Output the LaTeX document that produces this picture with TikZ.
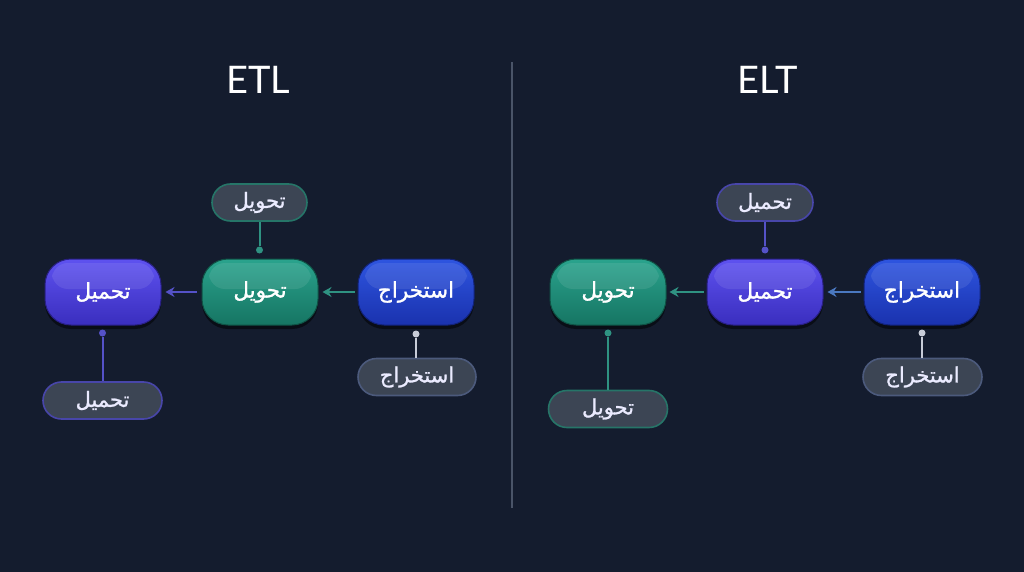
\documentclass[tikz,border=0pt]{standalone}
\usepackage{fontspec}
\setmainfont{Lato}
\newfontfamily\arabicfont[Script=Arabic]{DejaVu Sans}
\newfontfamily\arabicbold[Script=Arabic,FakeBold=1.2]{DejaVu Sans}
\TeXXeTstate=1
\usetikzlibrary{shadows,arrows.meta}
\definecolor{bg}{HTML}{141C2E}
\definecolor{divc}{HTML}{4A5468}
\definecolor{blueT}{HTML}{2E55E0}
\definecolor{blueB}{HTML}{1A32AE}
\definecolor{greenT}{HTML}{2AA38D}
\definecolor{greenB}{HTML}{167563}
\definecolor{purpT}{HTML}{5E52F0}
\definecolor{purpB}{HTML}{3A2EBE}
\definecolor{lblfill}{HTML}{3C4554}
\definecolor{tealc}{HTML}{2F9282}
\definecolor{purpc}{HTML}{5552C8}
\definecolor{bluec}{HTML}{4A78C0}
\definecolor{greyc}{HTML}{C8CCD8}
\definecolor{greyb}{HTML}{4C5A7C}
\newcommand{\artxt}[1]{\beginR #1\endR}
\tikzset{
  mainbox/.style={rounded corners=26pt, minimum width=116pt, minimum height=66pt,
    text=white, font=\arabicbold\fontsize{21.5}{26}\selectfont, inner sep=0pt,
    drop shadow={shadow xshift=0pt, shadow yshift=-4pt, opacity=0.5, fill=black},
    path picture={\fill[white, opacity=0.09, rounded corners=16pt]
      ([xshift=7pt,yshift=-4pt]path picture bounding box.north west) rectangle
      ([xshift=-7pt,yshift=3pt]path picture bounding box.east);}},
  extractbox/.style={mainbox, top color=blueT, bottom color=blueB, draw=blueB!70!black, line width=1pt},
  transformbox/.style={mainbox, top color=greenT, bottom color=greenB, draw=greenB!70!black, line width=1pt},
  loadbox/.style={mainbox, top color=purpT, bottom color=purpB, draw=purpB!70!black, line width=1pt},
  lbl/.style={rounded corners=18.5pt, minimum height=37pt, fill=lblfill, line width=1.6pt,
    text=white!92!blue, font=\arabicbold\fontsize{21}{25}\selectfont, inner sep=0pt},
  dot/.style={circle, inner sep=0pt, minimum size=7pt, fill=#1},
  conn/.style={line width=2pt, #1},
  flow/.style={line width=2.4pt, #1, -{Stealth[length=9pt,width=10pt]}},
  title/.style={text=white, font=\fontsize{38}{44}\selectfont}
}
\begin{document}
\begin{tikzpicture}[x=1pt,y=-1pt]
\fill[bg] (0,0) rectangle (1024,572);
\useasboundingbox (0,0) rectangle (1024,572);
\draw[divc, line width=1.2pt] (512,62) -- (512,508);

\node[title] (etl) at (258,80) {ETL};
\node[title] (elt) at (768,80) {ELT};

% ETL
\node[extractbox] (e1) at (416,292) {\artxt{استخراج}};
\node[transformbox] (t1) at (260,292) {\artxt{تحويل}};
\node[loadbox] (l1) at (103,292) {\artxt{تحميل}};
\draw[flow=tealc, shorten <=3pt, shorten >=4pt] (e1) -- (t1);
\draw[flow=purpc, shorten <=5pt, shorten >=4pt] (t1) -- (l1);

\node[lbl, draw=tealc!80!black, minimum width=95pt] (lt1) at (259.5,202.5) {\artxt{تحويل}};
\node[dot=tealc] (dt1) at (259.5,250) {};
\draw[conn=tealc] (lt1.south) -- (dt1);

\node[lbl, draw=purpc!85!black, minimum width=119pt] (ll1) at (102.5,400.5) {\artxt{تحميل}};
\node[dot=purpc] (dl1) at (102.5,333) {};
\draw[conn=purpc] (dl1) -- (ll1.north);

\node[lbl, draw=greyb, minimum width=118pt] (le1) at (417,377) {\artxt{استخراج}};
\node[dot=greyc] (de1) at (416,334) {};
\draw[conn=greyc] (de1) -- (de1 |- le1.north);

% ELT
\node[extractbox] (e2) at (922,292) {\artxt{استخراج}};
\node[loadbox] (l2) at (765,292) {\artxt{تحميل}};
\node[transformbox] (t2) at (608,292) {\artxt{تحويل}};
\draw[flow=bluec, shorten <=3pt, shorten >=4pt] (e2) -- (l2);
\draw[flow=tealc, shorten <=3pt, shorten >=3pt] (l2) -- (t2);

\node[lbl, draw=purpc!85!black, minimum width=96pt] (ll2) at (765,202.5) {\artxt{تحميل}};
\node[dot=purpc] (dl2) at (765,250) {};
\draw[conn=purpc] (ll2.south) -- (dl2);

\node[lbl, draw=tealc!80!black, minimum width=119pt] (lt2) at (608,409) {\artxt{تحويل}};
\node[dot=tealc] (dt2) at (608,333) {};
\draw[conn=tealc] (dt2) -- (lt2.north);

\node[lbl, draw=greyb, minimum width=119pt] (le2) at (922.5,377) {\artxt{استخراج}};
\node[dot=greyc] (de2) at (922,333) {};
\draw[conn=greyc] (de2) -- (de2 |- le2.north);
\end{tikzpicture}
\end{document}
